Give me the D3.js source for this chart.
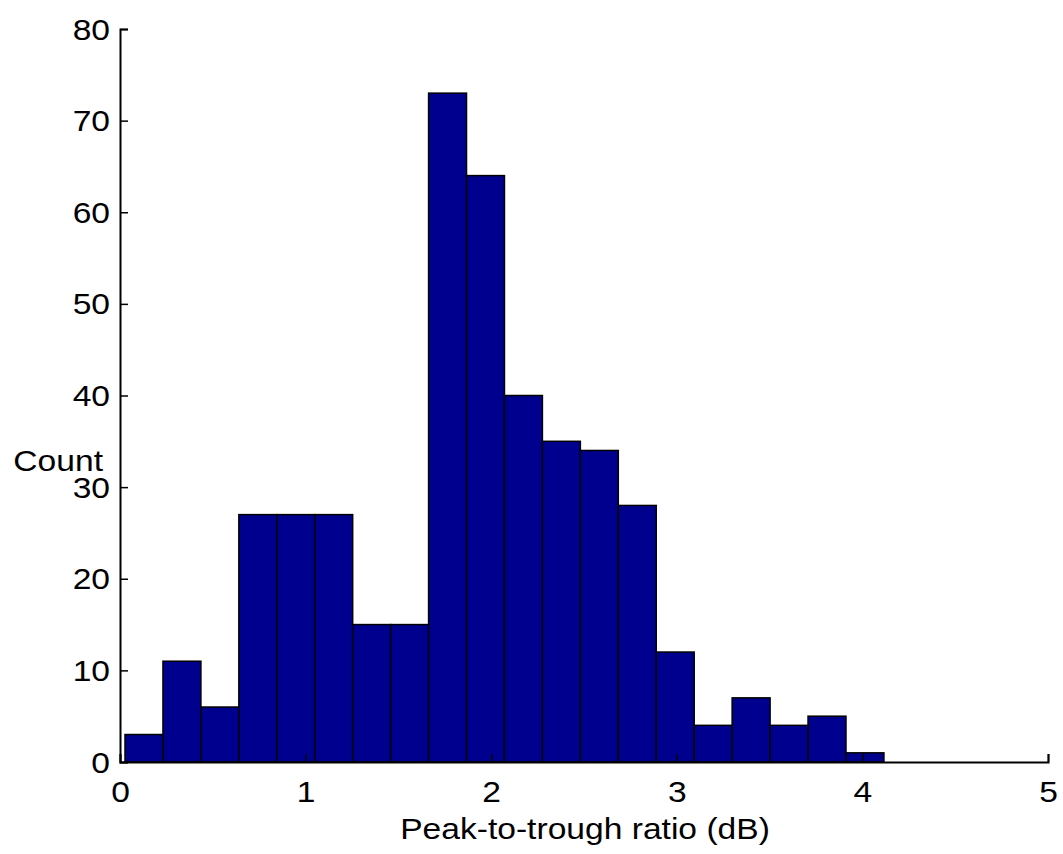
<!DOCTYPE html>
<html>
<head>
<meta charset="utf-8">
<script src="https://cdn.jsdelivr.net/npm/d3@7"></script>
<style>
  body { margin: 0; background: #fff; }
  text { font-family: "Liberation Sans", Arial, sans-serif; fill: #000; }
</style>
</head>
<body>
<div id="body"></div>
<script>
// histogram data, 20 bins between the min and max of the sample (like matlab hist)
var dataMin = 0.027;
var dataMax = 4.116;
var counts = [3, 11, 6, 27, 27, 27, 15, 15, 73, 64, 40, 35, 34, 28, 12, 4, 7, 4, 5, 1];
var xTicks = [0, 1, 2, 3, 4, 5];
var yTicks = [0, 10, 20, 30, 40, 50, 60, 70, 80];
var xLabel = 'Peak-to-trough ratio (dB)';
var yLabel = 'Count';

var width = 1063;
var height = 854;
var stretch = 1.12; // text looks a bit wide in the original

// bins
var binWidth = (dataMax - dataMin) / counts.length;
var bins = counts.map(function(c, i) {
  return {x0: dataMin + i * binWidth, x1: dataMin + (i + 1) * binWidth, n: c};
});

var x = d3.scaleLinear().domain([0, 5]).range([120, 1048]);
var y = d3.scaleLinear().domain([0, 80]).range([762, 29]);

var svg = d3.select('#body')
  .append('svg')
  .attr('width', width)
  .attr('height', height);

// bars
svg.append('g')
  .selectAll('rect')
  .data(bins)
  .enter()
  .append('rect')
  .attr('x', function(d) { return x(d.x0); })
  .attr('y', function(d) { return y(d.n); })
  .attr('width', function(d) { return x(d.x1) - x(d.x0); })
  .attr('height', function(d) { return y(0) - y(d.n); })
  .style('fill', '#00008f')
  .style('stroke', '#000')
  .style('stroke-width', '1.5px');

// y axis, ticks point inward
var yAxis = svg.append('g')
  .attr('transform', 'translate(120,0)')
  .call(d3.axisLeft(y).tickValues(yTicks).tickFormat(d3.format('d')).tickSize(-8));

// x axis, ticks point up
var xAxis = svg.append('g')
  .attr('transform', 'translate(0,762)')
  .call(d3.axisBottom(x).tickValues(xTicks).tickFormat(d3.format('d')).tickSize(-8));

[yAxis, xAxis].forEach(function(ax) {
  ax.select('.domain').style('stroke', '#000').style('stroke-width', '2px');
  ax.selectAll('.tick line').style('stroke', '#000').style('stroke-width', '1.5px');
  ax.selectAll('.tick text')
    .style('font-size', '30px')
    .style('font-family', '"Liberation Sans", Arial, sans-serif');
});

// stretch tick labels a bit
yAxis.selectAll('.tick text')
  .attr('x', null)
  .attr('dy', null)
  .attr('transform', 'translate(-10,10) scale(' + stretch + ',1)');
xAxis.selectAll('.tick text')
  .attr('y', null)
  .attr('dy', null)
  .attr('transform', 'translate(0,40) scale(' + stretch + ',1)');

// axis labels
svg.append('text')
  .attr('transform', 'translate(585,839) scale(' + stretch + ',1)')
  .attr('text-anchor', 'middle')
  .style('font-size', '30px')
  .text(xLabel);

svg.append('text')
  .attr('transform', 'translate(103,471) scale(' + stretch + ',1)')
  .attr('text-anchor', 'end')
  .style('font-size', '30px')
  .text(yLabel);
</script>
</body>
</html>
